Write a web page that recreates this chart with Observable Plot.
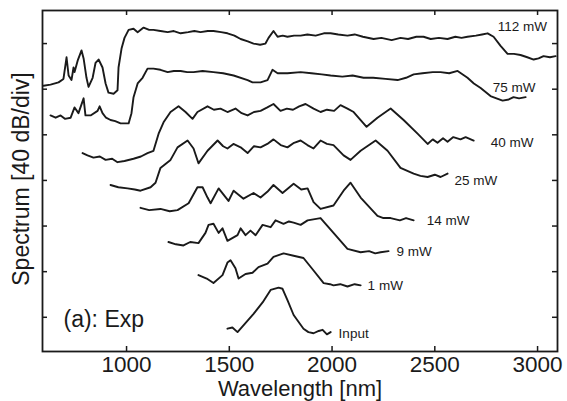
<!DOCTYPE html>
<html><head><meta charset="utf-8">
<script src="https://cdn.jsdelivr.net/npm/d3@7"></script>
<script src="https://cdn.jsdelivr.net/npm/@observablehq/plot@0.6"></script>
<style>body{margin:0;background:#fff;} svg{display:block;}</style>
</head><body><div id="chart"></div>
<script>
// Tick positions
const xTicks = [1000, 1500, 2000, 2500, 3000];
const yTicks = [0, 40, 80, 120, 160, 200, 240];

// Series names
const names = ["112 mW", "75 mW", "40 mW", "25 mW", "14 mW", "9 mW", "1 mW", "Input"];

// Wavelength (nm) and level (dB, offset traces)
const wl112 = [596,630,669,693,708,718,732,742,747,762,781,791,805,815,835,849,864,883,898,912,937,956,961,976,990,1010,1034,1054,1083,1110,1131,1165,1200,1230,1263,1300,1330,1360,1395,1423,1460,1491,1525,1555,1590,1618,1650,1676,1691,1715,1735,1760,1783,1815,1847,1880,1920,1960,1993,2030,2075,2110,2150,2202,2240,2290,2333,2370,2410,2445,2480,2520,2562,2600,2630,2659,2700,2730,2757,2786,2820,2854,2885,2917,2950,2981,3005,3029,3060,3088];
const db112 = [203,204,206,209,228,212,208,219,215,225,234,227,210,202,210,223,226,219,205,197,196,199,219,236,245,252,253,250,254,252,252,251,250,251,249,250,251,250,251,251,250,249,247,244,242,240,239,240,245,251,246,247,246,247,247,248,247,249,249,248,247,248,246,244,245,243,245,244,246,246,244,245,244,246,245,246,247,248,249,246,238,231,231,230,228,226,227,229,228,229];

const wl75 = [630,655,679,700,728,747,766,791,800,825,859,869,883,900,922,945,971,1010,1024,1034,1054,1078,1102,1131,1165,1200,1230,1263,1295,1326,1370,1423,1470,1521,1589,1613,1652,1686,1710,1735,1760,1783,1847,1900,1950,1993,2050,2100,2153,2200,2260,2319,2360,2397,2440,2490,2528,2570,2611,2659,2690,2723,2771,2800,2830,2860,2883,2910,2942];
const db75 = [177,175,177,174,175,184,179,192,177,177,181,185,179,175,173,172,170,170,179,193,205,210,218,218,217,215,216,216,215,215,216,215,214,212,208,206,206,208,217,214,214,214,215,214,213,212,211,212,210,210,209,208,210,213,214,215,215,214,216,210,205,201,194,192,190,191,193,192,193];

const wl40 = [786,810,839,870,898,930,956,990,1034,1070,1102,1131,1156,1180,1214,1253,1287,1321,1345,1394,1425,1457,1491,1530,1560,1589,1620,1652,1685,1715,1749,1780,1810,1840,1871,1910,1944,1975,2010,2041,2075,2105,2168,2221,2285,2348,2416,2465,2490,2513,2540,2562,2590,2625,2650,2689];
const db40 = [144,142,140,141,138,139,136,137,139,141,144,146,161,171,180,185,180,174,180,185,182,183,180,183,179,177,180,181,184,187,181,183,182,185,187,183,180,182,181,186,183,180,167,175,183,173,161,152,156,153,157,154,158,156,158,155];

const wl25 = [922,960,1005,1040,1068,1117,1141,1165,1214,1248,1297,1326,1350,1394,1443,1470,1491,1520,1555,1589,1620,1652,1685,1715,1750,1783,1815,1847,1880,1910,1944,1975,2007,2056,2090,2139,2212,2270,2333,2397,2430,2465,2500,2528,2562];
const db25 = [116,114,113,112,111,114,118,131,138,149,155,148,135,146,155,150,148,152,149,144,150,149,152,156,151,149,153,155,151,148,155,152,151,142,138,146,155,146,131,126,124,123,125,123,126];

const wl14 = [1068,1110,1165,1210,1248,1302,1345,1370,1394,1409,1448,1496,1521,1569,1618,1652,1685,1715,1759,1813,1850,1881,1910,1944,2007,2056,2090,2139,2221,2250,2285,2330,2360,2397];
const db14 = [96,94,95,93,94,100,114,114,105,100,113,102,111,104,109,105,110,116,109,117,112,113,101,95,98,111,118,105,89,87,87,85,87,85];

const wl9 = [1204,1240,1277,1310,1350,1384,1399,1423,1448,1467,1491,1540,1555,1579,1603,1628,1662,1701,1725,1764,1790,1813,1847,1881,1944,2007,2075,2139,2180,2210,2236,2275];
const db9 = [66,64,63,66,65,74,81,82,74,78,67,72,78,72,76,72,81,79,85,82,84,83,81,85,87,74,60,57,58,56,57,58];

const wl1 = [1350,1390,1423,1467,1491,1506,1530,1545,1579,1613,1642,1686,1715,1764,1813,1861,1910,1959,1990,2007,2040,2075,2110,2139];
const db1 = [37,34,30,37,48,50,43,34,38,39,44,47,53,56,54,52,41,30,29,28,29,27,29,28];

const wlIn = [1491,1515,1540,1618,1662,1701,1740,1759,1783,1813,1861,1885,1910,1935,1954,1975,1993];
const dbIn = [-10,-9,-13,3,13,24,26,25,15,2,-10,-13,-14,-12,-11,-15,-13];

const wls = [wl112, wl75, wl40, wl25, wl14, wl9, wl1, wlIn];
const dbs = [db112, db75, db40, db25, db14, db9, db1, dbIn];

const rows = names.flatMap((name, i) => wls[i].map((w, j) => ({name, wl: w, db: dbs[i][j]})));
const lastOf = name => { const r = rows.filter(d => d.name === name); return [r[r.length - 1]]; };

const ink = "#1a1a1a";
const lbl = (name, dx, dy) => Plot.text(lastOf(name), {x: "wl", y: "db", text: "name", dx, dy, textAnchor: "start", fontSize: 13.5, fill: ink});

const chart = Plot.plot({
  width: 567,
  height: 401,
  marginLeft: 42,
  marginRight: 10,
  marginTop: 10,
  marginBottom: 50,
  style: {fontFamily: "'Liberation Sans', Arial, sans-serif", background: "#fff", color: ink},
  x: {domain: [591, 3097], axis: null},
  y: {domain: [-30, 269], axis: null},
  marks: [
    Plot.line(rows, {x: "wl", y: "db", z: "name", stroke: ink, strokeWidth: 1.9, strokeLinejoin: "round"}),
    Plot.frame({stroke: ink, strokeWidth: 1.8}),
    Plot.tickX(xTicks, {x: d => d, insetTop: 336, stroke: ink, strokeWidth: 1.5}),
    Plot.tickX(xTicks, {x: d => d, insetBottom: 336, stroke: ink, strokeWidth: 1.5}),
    Plot.tickY(yTicks, {y: d => d, insetRight: 510, stroke: ink, strokeWidth: 1.5}),
    Plot.tickY(yTicks, {y: d => d, insetLeft: 510, stroke: ink, strokeWidth: 1.5}),
    Plot.axisX(xTicks, {anchor: "bottom", tickSize: 0, tickPadding: 5, fontSize: 22.5, tickFormat: d => String(d), label: null}),
    Plot.text(["Wavelength [nm]"], {frameAnchor: "bottom", dy: 37.5, lineAnchor: "middle", textAnchor: "middle", fontSize: 22, letterSpacing: "2.5px", fill: ink}),
    Plot.text(["Spectrum [40 dB/div]"], {frameAnchor: "left", dx: -21, dy: -2, rotate: -90, textAnchor: "middle", lineAnchor: "middle", fontSize: 23, fill: ink}),
    Plot.text(["(a): Exp"], {frameAnchor: "bottom-left", dx: 21, dy: -32, textAnchor: "start", lineAnchor: "middle", fontSize: 23, letterSpacing: "1px", fill: ink}),
    lbl("112 mW", -58, -29),
    lbl("75 mW", -33, -10),
    lbl("40 mW", 17, 2),
    lbl("25 mW", 7, 7),
    lbl("14 mW", 13, 0),
    lbl("9 mW", 8, 1),
    lbl("1 mW", 7, 0),
    lbl("Input", 8, 2)
  ]
});
document.getElementById("chart").append(chart);
</script>
</body></html>
